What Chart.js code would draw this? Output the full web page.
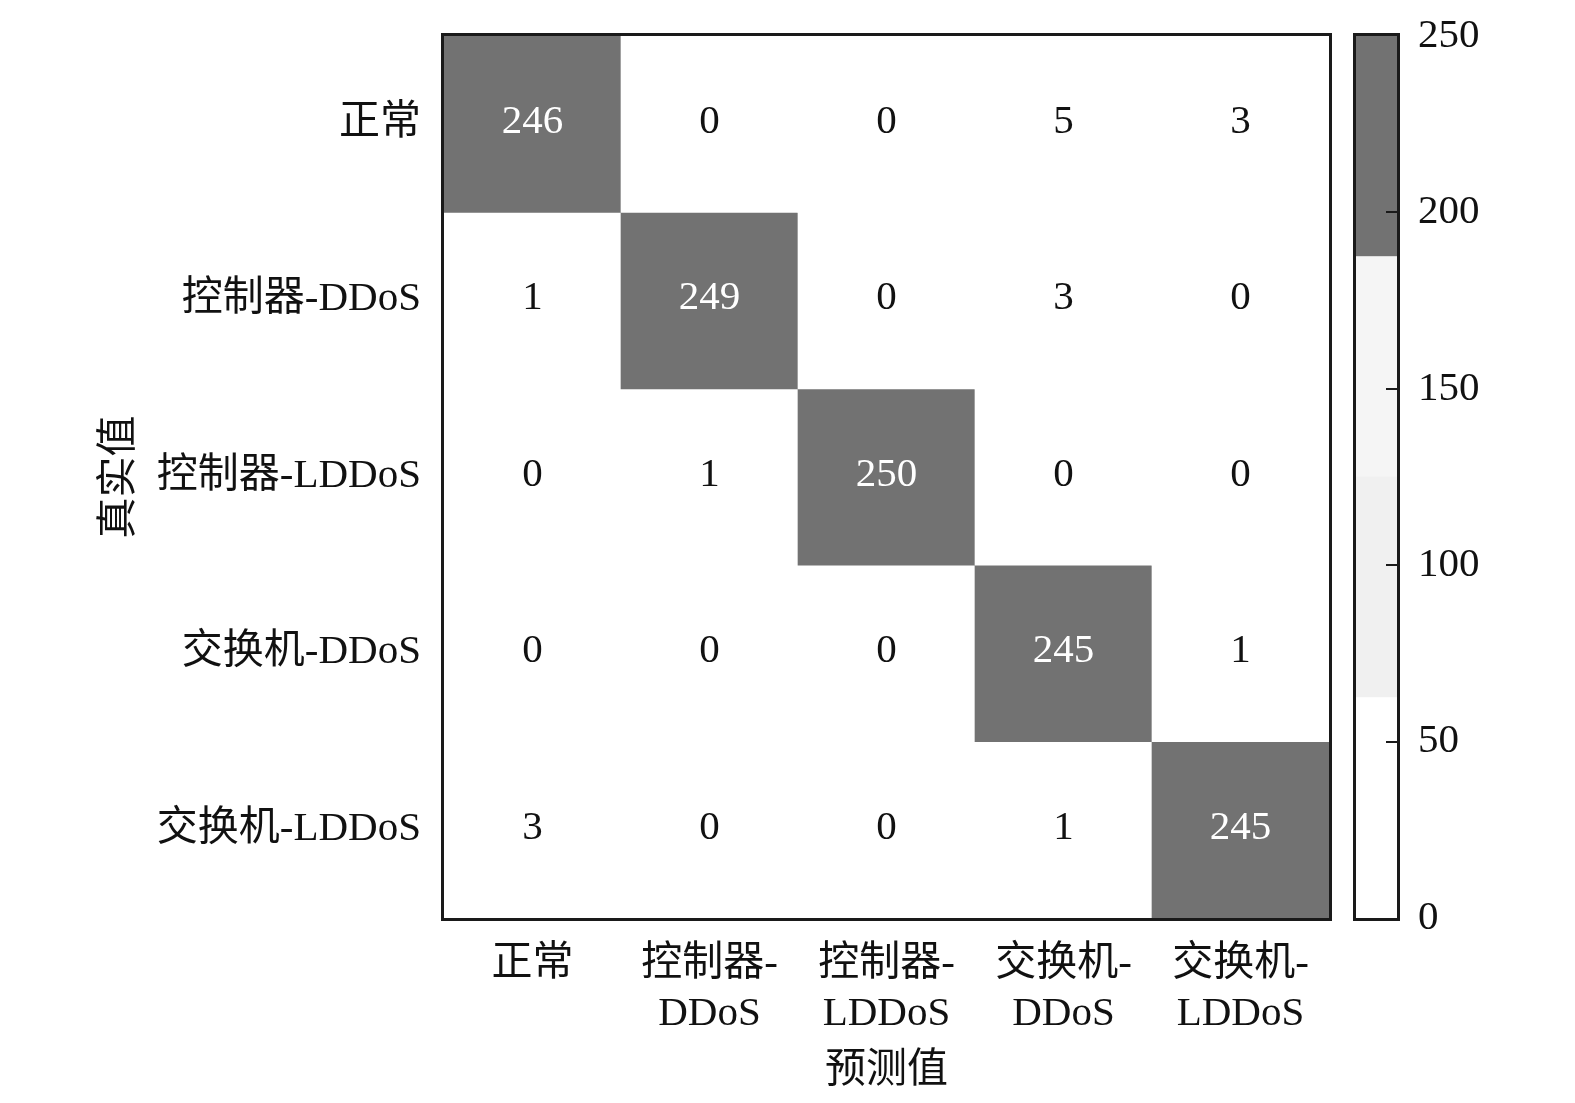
<!DOCTYPE html>
<html>
<head>
<meta charset="utf-8">
<script src="https://cdn.jsdelivr.net/npm/chart.js@4.4.1/dist/chart.umd.min.js"></script>
<style>
  html, body { margin: 0; padding: 0; background: #ffffff; }
  #wrap { position: relative; width: 1575px; height: 1103px; overflow: hidden; }
  #main { position: absolute; left: 0; top: 0; }
  #cbar { position: absolute; left: 1340px; top: 0; }
</style>
</head>
<body>
<div id="wrap">
  <canvas id="main" width="1345" height="1103"></canvas>
  <canvas id="cbar" width="235" height="1103"></canvas>
</div>
<script>
// ---- data ----
const predLabels = [['正常'], ['控制器-', 'DDoS'], ['控制器-', 'LDDoS'], ['交换机-', 'DDoS'], ['交换机-', 'LDDoS']];
const trueLabels = ['正常', '控制器-DDoS', '控制器-LDDoS', '交换机-DDoS', '交换机-LDDoS'];
const counts = [
  [246, 0, 0, 5, 3],
  [1, 249, 0, 3, 0],
  [0, 1, 250, 0, 0],
  [0, 0, 0, 245, 1],
  [3, 0, 0, 1, 245]
];
const xTitle = '预测值';
const yTitle = '真实值';
const cbBounds = [0, 62.5, 125, 187.5, 250];
const cbColors = ['#ffffff', '#f0f0f0', '#f5f5f5', '#727272'];
const cbTicks = [0, 50, 100, 150, 200, 250];

// ---- helpers ----
const FONT = "'Liberation Serif','Noto Sans CJK SC',serif";
const FS = 41;
function colorFor(v) {
  for (let k = 0; k < cbColors.length; k++) {
    if (v < cbBounds[k + 1]) return cbColors[k];
  }
  return cbColors[cbColors.length - 1];
}
function zeroPad(s) { s.paddingTop = 0; s.paddingBottom = 0; s.paddingLeft = 0; s.paddingRight = 0; }

const cellDatasets = trueLabels.map((lab, i) => ({
  label: lab,
  data: predLabels.map(() => [i - 0.5, i + 0.5]),
  backgroundColor: counts[i].map(v => colorFor(v)),
  borderWidth: 0,
  grouped: false,
  categoryPercentage: 1.0,
  barPercentage: 1.0
}));

const cellText = {
  id: 'cellText',
  afterDatasetsDraw(chart) {
    const ctx = chart.ctx;
    const xs = chart.scales.x, ys = chart.scales.y;
    ctx.save();
    ctx.font = FS + 'px ' + FONT;
    ctx.textAlign = 'center';
    ctx.textBaseline = 'middle';
    counts.forEach((row, i) => {
      row.forEach((v, j) => {
        ctx.fillStyle = colorFor(v) === '#727272' ? '#ffffff' : '#111111';
        ctx.fillText(String(v), xs.getPixelForValue(j), ys.getPixelForValue(i) - 2);
      });
    });
    const a = chart.chartArea;
    ctx.strokeStyle = '#1a1a1a';
    ctx.lineWidth = 3;
    ctx.strokeRect(a.left - 1.5, a.top - 1.5, a.right - a.left + 3, a.bottom - a.top + 3);
    ctx.restore();
  }
};

new Chart(document.getElementById('main'), {
  type: 'bar',
  data: { labels: predLabels, datasets: cellDatasets },
  options: {
    responsive: false,
    animation: false,
    devicePixelRatio: 1,
    layout: { padding: { top: 36, right: 16, left: 0, bottom: 0 } },
    plugins: { legend: { display: false }, tooltip: { enabled: false } },
    scales: {
      x: {
        type: 'category',
        offset: true,
        grid: { display: false, drawTicks: false },
        border: { display: false },
        ticks: { color: '#111111', font: { family: FONT, size: FS, lineHeight: 1.2 }, padding: 22, maxRotation: 0, autoSkip: false },
        title: { display: true, text: xTitle, color: '#111111', font: { family: FONT, size: FS }, padding: { top: 0, bottom: 7 } },
        afterFit(s) { s.height = 185; zeroPad(s); }
      },
      y: {
        type: 'linear',
        min: -0.5,
        max: 4.5,
        reverse: true,
        grid: { display: false, drawTicks: false },
        border: { display: false },
        afterBuildTicks(s) { s.ticks = trueLabels.map((_, i) => ({ value: i })); },
        ticks: {
          color: '#111111',
          font: { family: FONT, size: FS },
          padding: 23,
          labelOffset: -1,
          callback: (v) => trueLabels[v] ?? ''
        },
        title: { display: true, text: yTitle, color: '#111111', font: { family: FONT, size: FS }, padding: { top: 96, bottom: 0 } },
        afterFit(s) { s.width = 444; zeroPad(s); }
      }
    }
  },
  plugins: [cellText]
});

// ---- colorbar ----
const cbDatasets = cbColors.map((c, k) => ({
  data: [[cbBounds[k], cbBounds[k + 1]]],
  backgroundColor: c,
  borderWidth: 0,
  grouped: false,
  categoryPercentage: 1.0,
  barPercentage: 1.0
}));

const cbFrame = {
  id: 'cbFrame',
  afterDatasetsDraw(chart) {
    const ctx = chart.ctx, a = chart.chartArea, ys = chart.scales.y;
    ctx.save();
    ctx.strokeStyle = '#1a1a1a';
    ctx.lineWidth = 2;
    cbTicks.forEach(t => {
      if (t === cbTicks[0] || t === cbTicks[cbTicks.length - 1]) return;
      const y = Math.round(ys.getPixelForValue(t));
      ctx.beginPath();
      ctx.moveTo(a.right - 11, y);
      ctx.lineTo(a.right, y);
      ctx.stroke();
    });
    ctx.lineWidth = 3;
    ctx.strokeRect(a.left - 1.5, a.top - 1.5, a.right - a.left + 3, a.bottom - a.top + 3);
    ctx.restore();
  }
};

new Chart(document.getElementById('cbar'), {
  type: 'bar',
  data: { labels: [''], datasets: cbDatasets },
  options: {
    responsive: false,
    animation: false,
    devicePixelRatio: 1,
    layout: { padding: { top: 36, left: 16, right: 0, bottom: 185 } },
    plugins: { legend: { display: false }, tooltip: { enabled: false } },
    scales: {
      x: { display: false, offset: true },
      y: {
        position: 'right',
        min: 0,
        max: 250,
        grid: { display: false, drawTicks: false },
        border: { display: false },
        afterBuildTicks(s) { s.ticks = cbTicks.map(v => ({ value: v })); },
        ticks: { color: '#111111', font: { family: FONT, size: FS }, padding: 21 },
        afterFit(s) { s.width = 178; zeroPad(s); }
      }
    }
  },
  plugins: [cbFrame]
});
</script>
</body>
</html>
